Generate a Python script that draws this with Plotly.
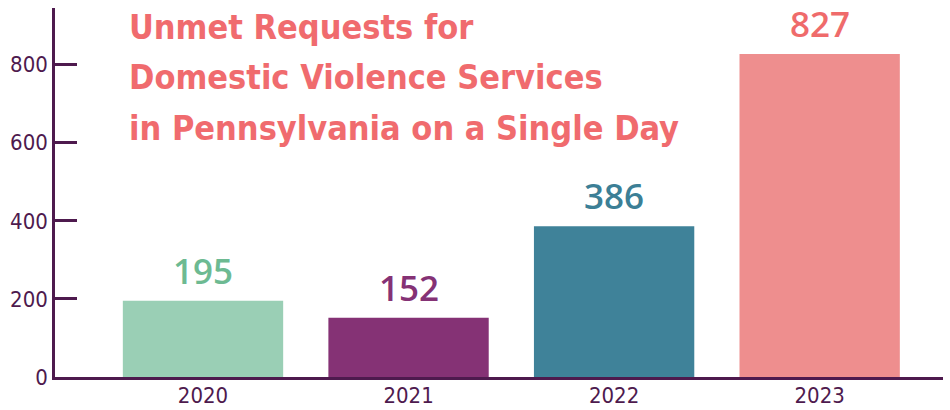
import plotly.graph_objects as go

years = ["2020", "2021", "2022", "2023"]
unmet_requests = [195, 152, 386, 827]
bar_colors = ["#9ACFB5", "#853275", "#3F8299", "#EE8E8E"]
label_colors = ["#6DBA92", "#853275", "#3C7F96", "#EF6B6B"]
title_lines = ["Unmet Requests for", "Domestic Violence Services", "in Pennsylvania on a Single Day"]
y_ticks = [0, 200, 400, 600, 800]

axis_color = "#4E1A4E"
cond_font = "DejaVu Sans Condensed, sans-serif"

W, H = 950, 410
ML, MR, MT, MB = 55, 7, 8, 33
PW, PH = W - ML - MR, H - MT - MB

fig = go.Figure()
fig.add_trace(go.Bar(
    x=years, y=unmet_requests,
    marker=dict(color=bar_colors, line=dict(width=0)),
    width=0.78, hoverinfo="skip",
))

for i, (v, c) in enumerate(zip(unmet_requests, label_colors)):
    fig.add_annotation(
        x=i, y=v, text=str(v), showarrow=False, yanchor="bottom", yshift=5,
        font=dict(family="Open Sans, sans-serif", size=35, color=c, weight=600),
    )

title_y = [27, 77, 128]
for line, ty in zip(title_lines, title_y):
    fig.add_annotation(
        xref="paper", yref="paper", x=(127 - ML) / PW, y=1 - (ty - MT) / PH,
        xanchor="left", yanchor="middle", text="<b>" + line + "</b>", showarrow=False,
        font=dict(family=cond_font, size=34, color="#F06B6E"),
    )

fig.update_layout(
    width=W, height=H,
    margin=dict(l=ML, r=MR, t=MT, b=MB, autoexpand=False),
    paper_bgcolor="white", plot_bgcolor="white",
    showlegend=False,
)
fig.update_xaxes(
    type="category", automargin=False,
    range=[-0.72, 3.60], showline=True, linecolor=axis_color, linewidth=2.5,
    ticks="", showgrid=False, zeroline=False, ticklabelstandoff=-3,
    tickfont=dict(family=cond_font, size=22, color=axis_color),
)
fig.update_yaxes(
    automargin=False,
    range=[0, 945], showline=True, linecolor=axis_color, linewidth=2.5,
    tickvals=y_ticks, ticks="inside", ticklen=22, tickwidth=2.5, tickcolor=axis_color,
    showgrid=False, zeroline=False,
    tickfont=dict(family=cond_font, size=22, color=axis_color),
)

fig.write_html("out.html", config={"displayModeBar": False},
               post_script="document.body.style.margin='0';")
